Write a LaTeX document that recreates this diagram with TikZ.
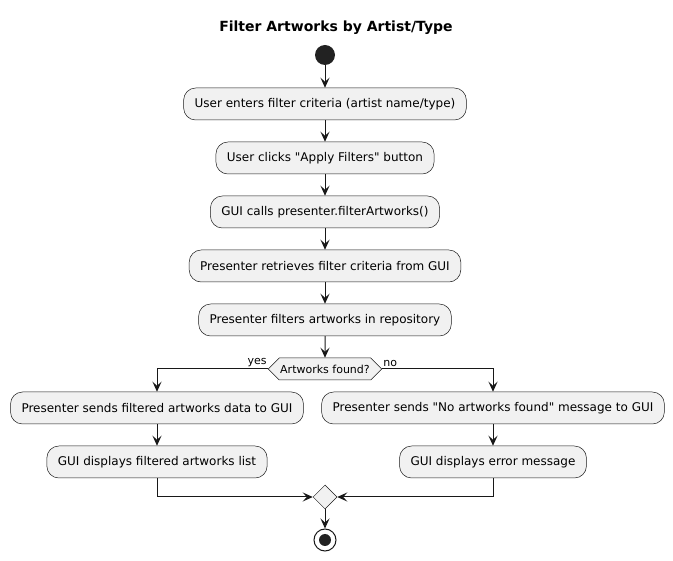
\documentclass[tikz,border=0pt]{standalone}
\usepackage{fontspec}
\setmainfont{DejaVu Sans}
\usetikzlibrary{arrows.meta, shapes.geometric, shapes.symbols}

\definecolor{boxfill}{HTML}{F1F1F1}
\definecolor{linecol}{HTML}{181818}
\definecolor{dotcol}{HTML}{222222}

\begin{document}
\begin{tikzpicture}[x = 1pt, y = -1pt, > = {Stealth[length = 10pt, width = 9pt, inset = 4pt]},
	action/.style = {draw = linecol, fill = boxfill, line width = 0.5pt, rounded corners = 12pt,
		minimum height = 32pt, inner xsep = 11pt, font = \fontsize{12}{14}\selectfont},
	choice/.style = {draw = linecol, fill = boxfill, line width = 0.5pt, shape = signal,
		signal to = west and east, minimum height = 22pt, inner xsep = 1pt, inner ysep = 0pt,
		font = \fontsize{11}{13}\selectfont},
	flow/.style = {draw = linecol, line width = 1pt},
	tag/.style = {font = \fontsize{11}{13}\selectfont, inner sep = 1pt}]

\useasboundingbox (0, 0) rectangle (673, 561);

% Title

\node [font = \fontsize{14}{16}\selectfont\bfseries] (title) at (336, 28) {Filter Artworks by Artist/Type};

% Start + main column

\node [circle, fill = dotcol, minimum size = 20pt, inner sep = 0pt] (start) at (325, 55) {};
\node [action] (enter) at (325, 104) {User enters filter criteria (artist name/type)};
\node [action] (click) at (325, 158) {User clicks \textquotedbl Apply Filters\textquotedbl{} button};
\node [action] (call) at (325, 212) {GUI calls presenter.filterArtworks()};
\node [action] (retrieve) at (325, 266) {Presenter retrieves filter criteria from GUI};
\node [action] (filter) at (325, 320) {Presenter filters artworks in repository};

\draw [flow, ->] (start) -- (enter);
\draw [flow, ->] (enter) -- (click);
\draw [flow, ->] (click) -- (call);
\draw [flow, ->] (call) -- (retrieve);
\draw [flow, ->] (retrieve) -- (filter);

% Decision

\node [choice] (found) at (325, 369) {Artworks found?};
\draw [flow, ->] (filter) -- (found);

% Branches

\node [action] (sendData) at (157, 408) {Presenter sends filtered artworks data to GUI};
\node [action] (display) at (157, 462) {GUI displays filtered artworks list};
\node [action] (sendNone) at (493, 408) {Presenter sends \textquotedbl No artworks found\textquotedbl{} message to GUI};
\node [action] (showError) at (493, 462) {GUI displays error message};

\draw [flow, ->] (found.west) -| (sendData.north);
\draw [flow, ->] (found.east) -| (sendNone.north);
\node [tag, anchor = south east] at ([yshift = 1] found.west) {yes};
\node [tag, anchor = south west] at ([yshift = 1] found.east) {no};

\draw [flow, ->] (sendData) -- (display);
\draw [flow, ->] (sendNone) -- (showError);

% Merge + stop

\node [diamond, draw = linecol, fill = boxfill, line width = 0.5pt, minimum size = 24pt, inner sep = 0pt] (merge) at (325, 497) {};
\draw [flow, ->] (display.south) |- (merge.west);
\draw [flow, ->] (showError.south) |- (merge.east);

\node [circle, draw = linecol, line width = 1pt, minimum size = 22pt, inner sep = 0pt] (stop) at (325, 540) {};
\fill [dotcol] (stop.center) circle (6);
\draw [flow, ->] (merge) -- (stop);

\end{tikzpicture}
\end{document}
